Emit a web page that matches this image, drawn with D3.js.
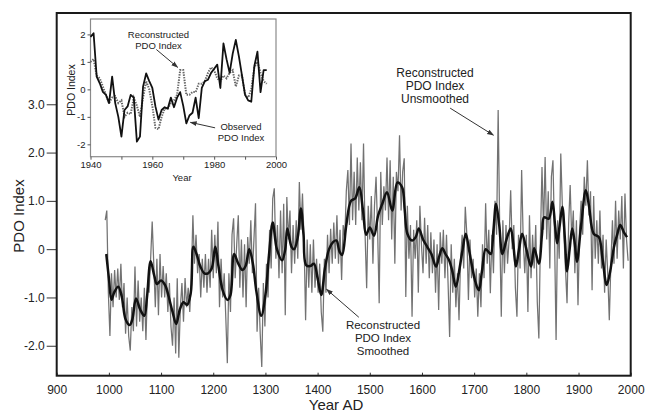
<!DOCTYPE html>
<html>
<head>
<meta charset="utf-8">
<script src="https://cdn.jsdelivr.net/npm/d3@7"></script>
<style>
  body { margin: 0; background: #fff; }
  svg { display: block; font-family: "Liberation Sans", Arial, Helvetica, sans-serif; }
</style>
</head>
<body>
<svg id="chart" width="645" height="412"></svg>
<script>
// ---- data ----
// unsmoothed reconstruction, sampled every 3 years from 993
const rawStart = 993;
const rawStep = 3;
const rawValues = [
  // 993 - 1098
  0.6, 0.8, -0.9, -1.8, -0.5, -1.2, -0.43, -1.0, -0.4, -1.05,
  -0.3, -1.2, -0.7, -1.75, -1.0, -1.8, -2.1, -1.2, -1.7, -0.36,
  -1.6, -0.65, -1.5, -1.0, -1.7, -0.8, -1.88, -0.8, -0.9, -0.2,
  0.57, -0.3, -1.2, -0.2, -1.37, -0.1,
  // 1101 - 1200
  -1.0, -0.35, -1.0, -0.5, -1.3, -0.7, -1.6, -2.0, -1.0, -2.16,
  -0.6, -2.25, -1.2, -0.7, -1.5, -0.6, -1.2, -0.8, -1.3, -0.6,
  0.7, -0.3, 0.3, -0.5, -0.1, -1.0, -0.2, -0.8, -0.1, -0.9,
  -0.2, -0.8, 0.4, -0.6,
  // 1203 - 1299
  0.3, -0.5, 0.57, -1.2, -0.2, -1.0, -0.5, -1.4, -2.36, -0.5,
  -1.3, 0.3, 0.64, -0.6, 0.1, 0.7, -0.8, 0.2, -1.0, 0.1,
  -1.2, 0.25, -0.3, 0.6, -0.5, 0.2, 0.95, -1.71, -0.8, -1.75,
  -2.44, -0.7, -1.6,
  // 1302 - 1398
  -0.3, -1.0, 0.4, -0.4, 1.05, 1.26, -0.2, 0.5, -0.6, 0.8,
  -0.5, 0.94, -1.37, 1.08, 0.2, 0.8, -0.5, 0.5, -0.3, 0.6,
  -0.2, 1.39, 0.4, 1.15, 0.2, -1.47, 0.2, -0.8, 0.1, -0.9,
  0.2, -0.8, -0.2,
  // 1401 - 1500
  -0.9, -0.3, -1.3, -1.71, -0.2, -0.9, 0.3, -0.5, 0.42, -0.3,
  0.55, -0.2, 0.7, -0.3, 0.4, -0.64, 0.5, 0.2, 1.2, 1.64,
  0.5, 2.19, 0.6, 1.6, 0.5, 1.9, 0.8, 1.8, 0.6, 2.19,
  0.3, -0.81, 0.9, 0.2,
  // 1503 - 1599
  1.1, -0.3, 0.9, 1.5, 0.4, -1.12, 1.6, 0.5, 1.3, 0.8,
  1.9, 0.6, 1.84, 0.2, 1.5, -0.3, 1.6, 1.2, 2.36, 0.8,
  1.6, 1.88, -0.99, 0.9, -0.2, 0.5, -1.4, 0.4, -0.2, 0.6,
  -0.9, 0.9, 0.1,
  // 1602 - 1698
  -0.5, 0.65, -0.3, 0.5, -0.6, 0.35, -0.5, 0.2, -0.9, 0.1,
  -1.26, 0.35, -0.3, 0.4, -0.6, 0.3, -0.7, -1.82, 0.1, -0.9,
  -0.2, -1.2, -0.5, -1.47, -0.2, 0.3, -0.4, 0.88, 0.3, -1.05,
  0.2, -0.6, -0.2,
  // 1701 - 1800
  -1.0, -0.4, -1.4, -0.5, -1.2, 0.1, -0.6, 0.95, -0.3, 0.4,
  -0.91, 0.3, -0.5, 1.0, 0.3, 2.88, 0.4, -1.4, 0.6, -0.5,
  0.5, -0.3, 0.2, 1.22, 0.0, 0.5, -0.8, -1.4, 0.3, -0.4,
  1.64, 0.2, -0.5, 0.3,
  // 1803 - 1899
  -1.3, 0.7, -0.6, 0.3, -0.4, 0.5, -1.1, -1.85, 0.2, 1.7,
  0.4, 1.91, 0.2, 1.2, -0.4, 1.5, 1.84, 0.3, -1.88, 0.6,
  -0.2, 1.98, 0.9, 0.3, -0.4, -1.12, 0.5, 1.33, 0.2, 0.8,
  -0.5, 0.6, -1.16,
  // 1902 - 1995
  0.4, 1.0, 0.3, 1.5, 0.9, 1.84, 0.7, 1.2, -0.85, 1.1,
  -0.2, 0.6, -0.3, 0.8, -0.4, 0.3, -0.9, 0.2, -0.5, -1.47,
  -0.3, 0.6, -0.3, 1.0, -0.2, 0.8, 0.2, 1.1, -0.4, 1.15,
  0.2, -0.24
];

// smoothed reconstruction
const smoothYears = [
  995, 1000, 1005, 1010, 1018, 1025, 1032, 1040, 1045, 1052,
  1060, 1068, 1073, 1080, 1087, 1092, 1100, 1108, 1115, 1122,
  1129, 1136, 1143, 1150, 1157, 1162, 1168, 1175, 1183, 1190,
  1197, 1204, 1210, 1218, 1227, 1233, 1240, 1248, 1256, 1262,
  1269, 1276, 1283, 1292, 1300, 1307, 1314, 1322, 1332, 1338,
  1342, 1350, 1355, 1362, 1368, 1373, 1378, 1386, 1393, 1400,
  1407, 1414, 1422, 1430, 1436, 1442, 1447, 1455, 1464, 1472,
  1480, 1487, 1493, 1500, 1508, 1516, 1524, 1533, 1543, 1553,
  1562, 1567, 1572, 1581, 1588, 1594, 1602, 1610, 1618, 1627,
  1633, 1639, 1645, 1652, 1658, 1665, 1672, 1678, 1684, 1690,
  1696, 1703, 1709, 1715, 1722, 1727, 1732, 1737, 1742, 1748,
  1754, 1762, 1770, 1775, 1780, 1786, 1792, 1800, 1809, 1815,
  1824, 1830, 1834, 1843, 1850, 1855, 1859, 1864, 1869, 1874,
  1878, 1883, 1888, 1893, 1897, 1905, 1914, 1920, 1929, 1939,
  1946, 1954, 1960, 1968, 1974, 1980, 1987, 1993
];
const smoothValues = [
  -0.1, -0.6, -1.05, -0.9, -0.78, -1.0, -1.45, -1.57, -1.45, -1.02,
  -1.25, -1.38, -1.0, -0.25, -0.55, -0.72, -0.65, -0.75, -1.0, -1.3,
  -1.55, -1.25, -1.1, -1.15, -0.9, 0.05, -0.1, -0.35, -0.5, -0.5,
  -0.4, 0.05, -0.35, -0.85, -1.05, -0.95, -0.1, -0.3, -0.43, -0.35,
  0.0, -0.3, -0.9, -1.38, -0.95, -0.1, 0.55, 0.0, -0.23, 0.0,
  0.43, 0.05, 0.0, 0.25, 0.84, 0.3, -0.33, -0.35, -0.3, -0.6,
  -0.95, -0.4, 0.0, 0.15, 0.18, -0.05, -0.12, 0.5, 1.0, 1.05,
  1.28, 0.8, 0.3, 0.45, 0.28, 0.7, 0.94, 1.18, 0.8, 1.38,
  1.28, 0.8, 0.32, 0.18, 0.25, 0.43, 0.2, 0.05, -0.1, -0.36,
  -0.15, 0.02, -0.1, -0.23, -0.45, -0.78, -0.4, 0.0, 0.32, 0.0,
  -0.36, -0.7, -0.85, -0.45, 0.0, -0.05, -0.1, 0.4, 0.94, 0.5,
  -0.1, 0.2, 0.43, 0.1, -0.36, 0.0, 0.32, 0.0, -0.36, 0.02,
  -0.3, 0.3, 0.66, 0.63, 0.98, 0.5, 0.12, 0.5, 0.88, 0.2,
  -0.46, 0.0, 0.43, 0.1, -0.26, 0.5, 1.22, 0.9, 0.32, 0.25,
  -0.2, -0.74, -0.5, 0.05, 0.3, 0.5, 0.35, 0.25
];

// inset: 1940 - 1997
const insetYears = d3.range(1940, 1998);
const observedValues = [
  1.91, 2.04, 0.46, 0.22, -0.09, -0.2, -0.5, 0.46, -0.5, -1.0,
  -1.72, -0.75, -0.62, -0.2, -0.3, -1.9, -1.72, 0.1, 0.58, 0.3,
  0.05, -0.62, -1.1, -0.75, -0.65, -0.7, -0.3, -0.65, -0.3, -0.1,
  -0.6, -1.24, -0.95, -0.85, -0.3, -1.05, 0.05, 0.3, 0.35, 0.6,
  0.75, 0.9, 0.05, 1.67, 1.1, 0.6, 1.3, 1.8, 1.2, 0.5,
  -0.2, -0.4, -0.45, 0.85, 1.37, -0.1, 0.7, 0.7
];
const reconstructedValues = [
  1.0, 1.1, 0.5, 0.4, 0.1, -0.2, -0.5, -0.3, -0.25, -0.5,
  -0.4, -1.0, -0.85, -0.9, -0.3, -0.6, -1.0, -0.3, 0.3, 0.0,
  -0.6, -1.4, -1.45, -1.0, -0.7, -0.7, -0.5, -0.4, -0.2, 0.7,
  0.7, -0.2, -0.2, -0.1, -0.1, 0.2, 0.2, 0.3, 0.6, 0.8,
  0.7, 0.4, 0.3, 0.5, 0.4, 0.6, 0.7, 0.1, 0.5, 0.5,
  -0.2, -0.3, 0.0, 0.8, 1.0, 0.6, 0.3, 0.2
];

const xTicks = d3.range(900, 2001, 100);
const yTicks = [-2, -1, 0, 1, 2, 3];
const insetXTicks = d3.range(1940, 2001, 10);
const insetYTicks = [-2, -1, 0, 1, 2];

// ---- drawing ----
const svg = d3.select('#chart');

const x = d3.scaleLinear().domain([900, 2000]).range([56.7, 630.7]);
const y = d3.scaleLinear().domain([-2.62, 4.89]).range([375.7, 13]);

svg.append('defs').append('marker')
  .attr('id', 'arrow')
  .attr('viewBox', '0 0 10 10')
  .attr('refX', 9)
  .attr('refY', 5)
  .attr('markerWidth', 7)
  .attr('markerHeight', 7)
  .attr('orient', 'auto')
  .append('path')
  .attr('d', 'M0,1.5L10,5L0,8.5Z')
  .attr('fill', '#333');

// unsmoothed (grey)
svg.append('path')
  .datum(rawValues)
  .attr('fill', 'none')
  .attr('stroke', '#727272')
  .attr('stroke-width', 1.25)
  .attr('d', d3.line()
    .x((d, i) => x(rawStart + i * rawStep))
    .y(d => y(d)));

// smoothed (black)
svg.append('path')
  .datum(smoothValues)
  .attr('fill', 'none')
  .attr('stroke', '#111')
  .attr('stroke-width', 2.5)
  .attr('stroke-linejoin', 'round')
  .attr('d', d3.line()
    .x((d, i) => x(smoothYears[i]))
    .y(d => y(d))
    .curve(d3.curveCatmullRom));

// axes
const yAxis = svg.append('g')
  .attr('transform', `translate(${x.range()[0]},0)`)
  .call(d3.axisLeft(y)
    .tickValues(yTicks)
    .tickSize(10)
    .tickPadding(2)
    .tickFormat(d => d === 0 ? '0' : d.toFixed(1)));
yAxis.select('.domain').remove();
yAxis.selectAll('line').attr('stroke', '#333');
yAxis.selectAll('text').attr('font-size', 12).attr('fill', '#222')
  .attr('font-family', '"Liberation Sans", Arial, sans-serif');

const xAxis = svg.append('g')
  .attr('transform', `translate(0,${y.range()[0]})`)
  .call(d3.axisBottom(x)
    .tickValues(xTicks)
    .tickSize(-3)
    .tickPadding(10)
    .tickFormat(d => d));
xAxis.select('.domain').remove();
xAxis.selectAll('line').attr('stroke', '#333');
xAxis.selectAll('text').attr('font-size', 12).attr('fill', '#222')
  .attr('font-family', '"Liberation Sans", Arial, sans-serif');

// frame
svg.append('rect')
  .attr('x', x.range()[0])
  .attr('y', y.range()[1])
  .attr('width', x.range()[1] - x.range()[0])
  .attr('height', y.range()[0] - y.range()[1])
  .attr('fill', 'none')
  .attr('stroke', '#1a1a1a')
  .attr('stroke-width', 2);

svg.append('text')
  .attr('x', 336)
  .attr('y', 410)
  .attr('text-anchor', 'middle')
  .attr('font-size', 15)
  .attr('fill', '#222')
  .text('Year AD');

svg.append('text')
  .attr('transform', 'translate(24,216) rotate(-90)')
  .attr('text-anchor', 'middle')
  .attr('font-size', 15)
  .attr('fill', '#222')
  .text('PDO Index');

// annotations on the main plot
const note = (lines, cx, y0, size, lh) => {
  svg.append('text')
    .attr('text-anchor', 'middle')
    .attr('font-size', size)
    .attr('fill', '#222')
    .selectAll('tspan')
    .data(lines)
    .enter()
    .append('tspan')
    .attr('x', cx)
    .attr('y', (d, i) => y0 + i * lh)
    .text(d => d);
};
const arrow = (x1, y1, x2, y2) => {
  svg.append('line')
    .attr('x1', x1).attr('y1', y1)
    .attr('x2', x2).attr('y2', y2)
    .attr('stroke', '#333')
    .attr('stroke-width', 1)
    .attr('marker-end', 'url(#arrow)');
};

note(['Reconstructed', 'PDO Index', 'Unsmoothed'], 435, 77, 12, 13);
arrow(x(1654), y(2.92), x(1737), y(2.36));
note(['Reconstructed', 'PDO Index', 'Smoothed'], 383, 329, 11.5, 13);
arrow(x(1479), y(-1.41), x(1417), y(-0.83));

// ---- inset ----
const ix = d3.scaleLinear().domain([1940, 2000]).range([90.5, 276]);
const iy = d3.scaleLinear().domain([-2.45, 2.56]).range([156.7, 19]);

const inset = svg.append('g').attr('class', 'inset');
inset.append('rect')
  .attr('x', ix.range()[0])
  .attr('y', iy.range()[1])
  .attr('width', ix.range()[1] - ix.range()[0])
  .attr('height', iy.range()[0] - iy.range()[1])
  .attr('fill', '#fff')
  .attr('stroke', '#8a8a8a')
  .attr('stroke-width', 1.2);

inset.append('path')
  .datum(reconstructedValues)
  .attr('fill', 'none')
  .attr('stroke', '#666')
  .attr('stroke-width', 2)
  .attr('stroke-dasharray', '1.4,1.2')
  .attr('d', d3.line()
    .x((d, i) => ix(insetYears[i]))
    .y(d => iy(d)));

inset.append('path')
  .datum(observedValues)
  .attr('fill', 'none')
  .attr('stroke', '#111')
  .attr('stroke-width', 1.8)
  .attr('stroke-linejoin', 'round')
  .attr('d', d3.line()
    .x((d, i) => ix(insetYears[i]))
    .y(d => iy(d)));

const iyAxis = inset.append('g')
  .attr('transform', `translate(${ix.range()[0]},0)`)
  .call(d3.axisLeft(iy)
    .tickValues(insetYTicks)
    .tickSize(3)
    .tickPadding(2)
    .tickFormat(d => String(d)));
iyAxis.select('.domain').remove();
iyAxis.selectAll('line').attr('stroke', '#555');
iyAxis.selectAll('text').attr('font-size', 9.5).attr('fill', '#222')
  .attr('font-family', '"Liberation Sans", Arial, sans-serif');

const ixAxis = inset.append('g')
  .attr('transform', `translate(0,${iy.range()[0]})`)
  .call(d3.axisBottom(ix)
    .tickValues(insetXTicks)
    .tickSize(3)
    .tickPadding(2)
    .tickFormat(d => d % 20 === 0 ? d : ''));
ixAxis.select('.domain').remove();
ixAxis.selectAll('line').attr('stroke', '#555');
ixAxis.selectAll('text').attr('font-size', 9.5).attr('fill', '#222')
  .attr('font-family', '"Liberation Sans", Arial, sans-serif');

inset.append('text')
  .attr('x', 182)
  .attr('y', 180.5)
  .attr('text-anchor', 'middle')
  .attr('font-size', 9.5)
  .attr('fill', '#222')
  .text('Year');

inset.append('text')
  .attr('transform', 'translate(74.5,90) rotate(-90)')
  .attr('text-anchor', 'middle')
  .attr('font-size', 10.5)
  .attr('fill', '#222')
  .text('PDO Index');

note(['Reconstructed', 'PDO Index'], 158.5, 38, 9.5, 10.5);
arrow(ix(1961.3), iy(1.45), ix(1968.2), iy(0.8));
note(['Observed', 'PDO Index'], 241, 130, 9.5, 10.5);
arrow(ix(1980.3), iy(-1.4), ix(1972.3), iy(-1.2));
</script>
</body>
</html>
